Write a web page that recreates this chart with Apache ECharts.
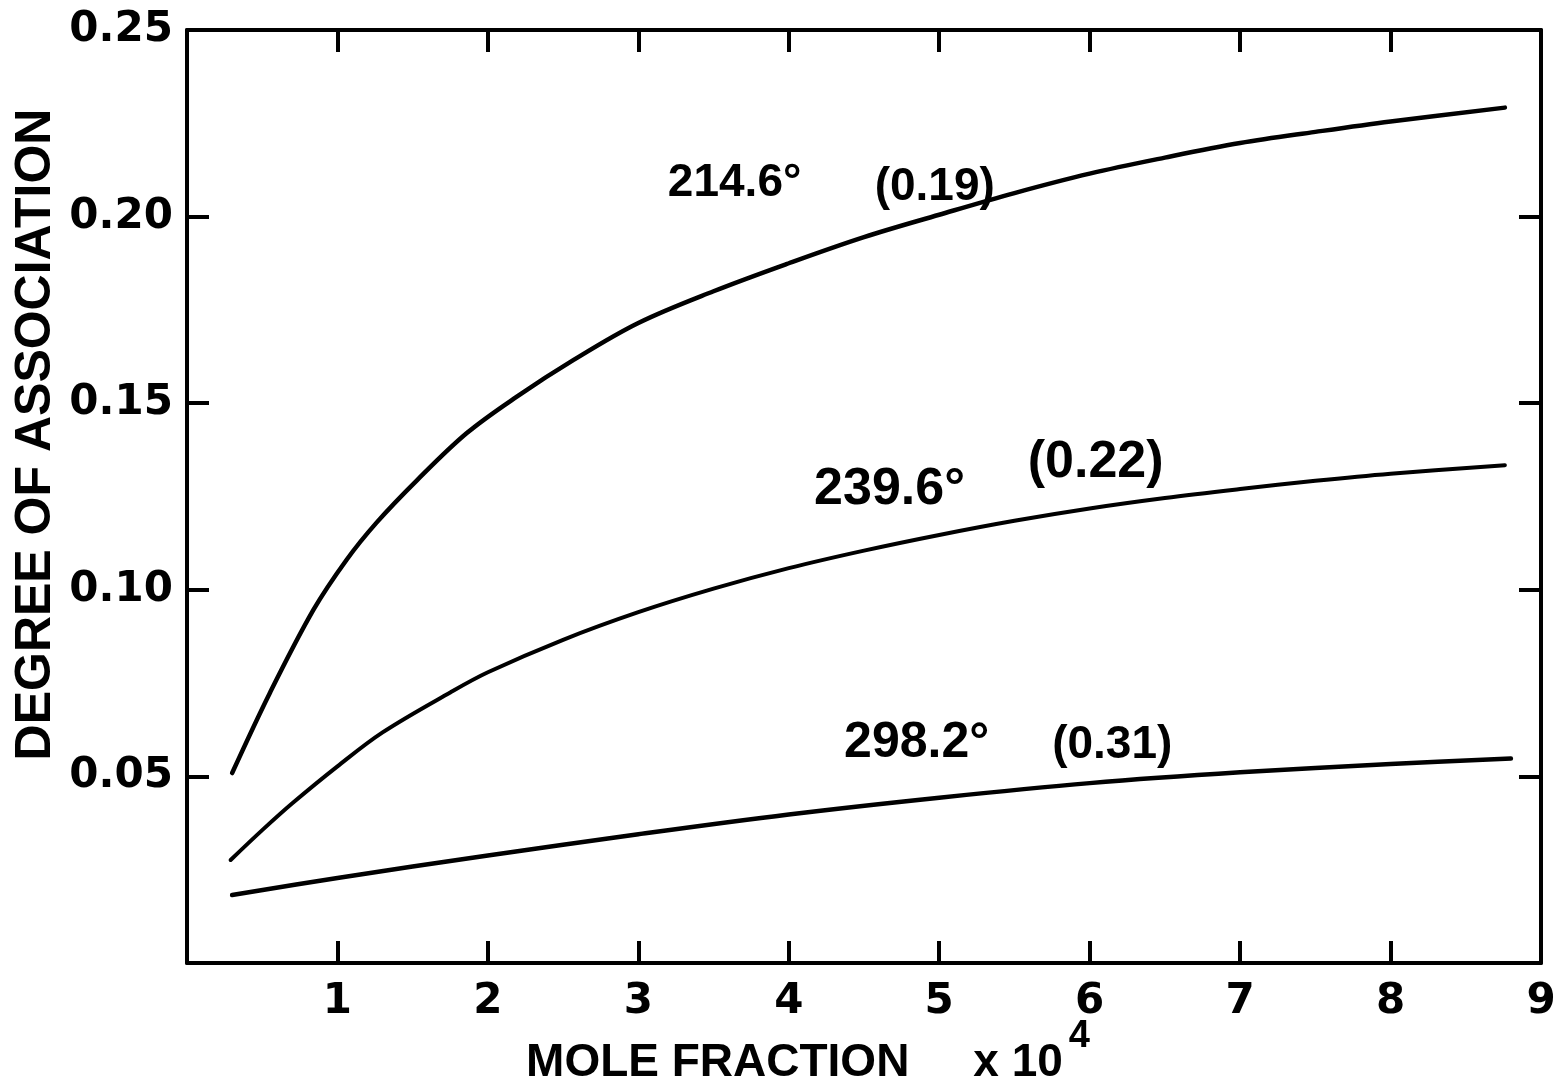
<!DOCTYPE html>
<html>
<head>
<meta charset="utf-8">
<script src="https://cdn.jsdelivr.net/npm/echarts@6/dist/echarts.min.js"></script>
<style>
html,body{margin:0;padding:0;background:#fff;}
#chart{width:1565px;height:1086px;}
</style>
</head>
<body>
<div id="chart"></div>
<script>
// ---- data ----
const curve214x = [0.30, 0.55, 0.84, 1.06, 1.26, 1.53, 1.86, 2.19, 2.57, 3.0, 3.5, 4.0, 4.5, 5.0, 5.5, 6.0, 6.5, 7.0, 7.5, 8.0, 8.76];
const curve214y = [0.0509, 0.0723, 0.0946, 0.1080, 0.1180, 0.1294, 0.1420, 0.1517, 0.1616, 0.1715, 0.1800, 0.1875, 0.1945, 0.2005, 0.2063, 0.2115, 0.2158, 0.2197, 0.2227, 0.2255, 0.2292];

const curve239x = [0.29, 0.5, 0.7, 1.0, 1.3, 1.75, 2.0, 2.5, 3.0, 3.5, 4.0, 4.5, 5.0, 5.5, 6.0, 6.5, 7.0, 7.5, 8.0, 8.76];
const curve239y = [0.0276, 0.0356, 0.0428, 0.0527, 0.0618, 0.0725, 0.0779, 0.0866, 0.0940, 0.1003, 0.1058, 0.1105, 0.1147, 0.1185, 0.1218, 0.1246, 0.1270, 0.1292, 0.1311, 0.1334];

const curve298x = [0.30, 1.0, 2.0, 3.0, 4.0, 5.0, 6.0, 7.0, 8.0, 8.8];
const curve298y = [0.0182, 0.0228, 0.0288, 0.0345, 0.0398, 0.0443, 0.0482, 0.0511, 0.0533, 0.0548];

const xTickLabels = ['1','2','3','4','5','6','7','8','9'];
const yTickLabels = ['0.05','0.10','0.15','0.20','0.25'];

const labels214 = ['214.6°', '(0.19)'];
const labels239 = ['239.6°', '(0.22)'];
const labels298 = ['298.2°', '(0.31)'];

// ---- build ----
function pairs(xs, ys){ return xs.map((x,i)=>[x, ys[i]]); }

const tickFont = {fontFamily:'DejaVu Sans', fontWeight:'bold', fontSize:42, color:'#000'};

function annot(texts, coords, sizes){
  return {
    symbol:'rect', symbolSize:1,
    itemStyle:{color:'rgba(0,0,0,0)'},
    label:{show:true, position:'inside', formatter:p=>p.name,
      fontFamily:'Liberation Sans', fontWeight:'bold', fontSize:46, color:'#000'},
    data: texts.map((t,i)=>({name:t, coord:coords[i], label:{fontSize:sizes[i]}}))
  };
}

function lineSeries(data, width, mp){
  return {
    type:'line', data, smooth:0.35, showSymbol:false, symbol:'none',
    lineStyle:{color:'#000', width, cap:'round'},
    markPoint: mp, silent:true, animation:false
  };
}

const axisCommon = {
  type:'value',
  axisLine:{show:true, onZero:false, lineStyle:{color:'#000', width:4}},
  axisTick:{show:true, inside:true, length:22, lineStyle:{color:'#000', width:4}},
  splitLine:{show:false}
};

const option = {
  animation:false,
  backgroundColor:'#fff',
  grid:{left:187, right:24, top:30, bottom:123, containLabel:false, outerBoundsMode:'none'},
  xAxis:[
    {...axisCommon, position:'bottom', min:0, max:9, interval:1,
      axisLabel:{...tickFont, margin:18, formatter:v=> v>0 ? xTickLabels[v-1] : ''},
      name:'{m|MOLE FRACTION     x 10}{s|4}', nameLocation:'middle', nameGap:55, nameMoveOverlap:false,
      nameTextStyle:{padding:[0,112,0,0],
        rich:{m:{fontFamily:'Liberation Sans', fontWeight:'bold', fontSize:46, color:'#000', verticalAlign:'bottom', lineHeight:68},
              s:{fontFamily:'Liberation Sans', fontWeight:'bold', fontSize:38, color:'#000', verticalAlign:'top', lineHeight:30, padding:[0,0,0,6]}}}
    },
    {...axisCommon, position:'top', min:0, max:9, interval:1, axisLabel:{show:false}}
  ],
  yAxis:[
    {...axisCommon, position:'left', min:0, max:0.25, interval:0.05,
      axisLabel:{...tickFont, margin:14, formatter:v=>{const i=Math.round(v/0.05); return i>0 ? yTickLabels[i-1] : '';}},
      name:'DEGREE OF ASSOCIATION', nameLocation:'middle', nameGap:126, nameRotate:90, nameMoveOverlap:false,
      nameTextStyle:{fontFamily:'Liberation Sans', fontWeight:'bold', fontSize:50, color:'#000', padding:[0,0,0,124]}
    },
    {...axisCommon, position:'right', min:0, max:0.25, interval:0.05, axisLabel:{show:false}}
  ],
  series:[
    lineSeries(pairs(curve214x, curve214y), 4.5, annot(labels214, [[3.64,0.2090],[4.97,0.2079]], [46,46])),
    lineSeries(pairs(curve239x, curve239y), 4, annot(labels239, [[4.67,0.1267],[6.04,0.1340]], [52,52])),
    lineSeries(pairs(curve298x, curve298y), 4.5, annot(labels298, [[4.85,0.0590],[6.15,0.0582]], [50,46]))
  ]
};

const chart = echarts.init(document.getElementById('chart'), null, {renderer:'canvas'});
chart.setOption(option);
</script>
</body>
</html>
